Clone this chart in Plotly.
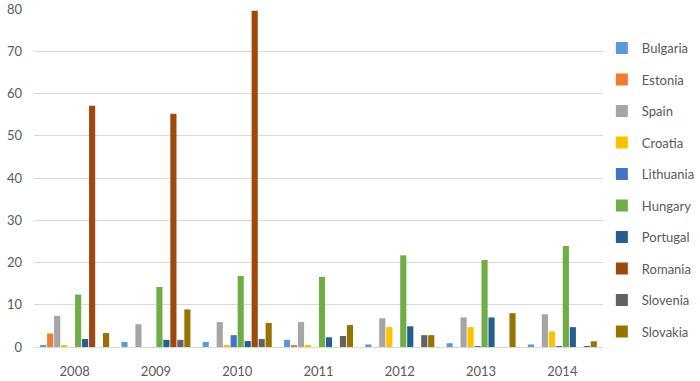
import plotly.graph_objects as go

years = ["2008", "2009", "2010", "2011", "2012", "2013", "2014"]
countries = ["Bulgaria", "Estonia", "Spain", "Croatia", "Lithuania",
             "Hungary", "Portugal", "Romania", "Slovenia", "Slovakia"]
colors = ["#5B9BD5", "#ED7D31", "#A5A5A5", "#FFC000", "#4472C4",
          "#70AD47", "#255E91", "#9E480E", "#636363", "#997300"]

bulgaria = [0.5, 1.2, 1.2, 1.7, 0.6, 0.9, 0.6]
estonia = [3.2, 0, 0, 0.25, 0, 0, 0]
spain = [7.4, 5.4, 5.9, 5.9, 6.8, 7.0, 7.75]
croatia = [0.4, 0, 0.25, 0.25, 4.7, 4.7, 3.7]
lithuania = [0, 0, 2.8, 0, 0, 0.2, 0.2]
hungary = [12.4, 14.2, 16.8, 16.6, 21.7, 20.6, 23.9]
portugal = [1.9, 1.7, 1.4, 2.3, 4.9, 7.0, 4.7]
romania = [57.1, 55.2, 79.6, 0, 0, 0, 0]
slovenia = [0, 1.7, 1.9, 2.6, 2.8, 0, 0.2]
slovakia = [3.3, 8.9, 5.7, 5.2, 2.8, 8.0, 1.35]

series = [bulgaria, estonia, spain, croatia, lithuania,
          hungary, portugal, romania, slovenia, slovakia]

FONT = "Lato"
GRAY = "#595959"

fig = go.Figure()
for name, vals, col in zip(countries, series, colors):
    fig.add_trace(go.Bar(x=years, y=vals, name=name, marker_color=col,
                         marker_line_width=0, legendgroup=name))

fig.update_layout(
    width=700, height=381,
    margin=dict(l=34, r=97, t=9, b=34, autoexpand=False),
    paper_bgcolor="white", plot_bgcolor="white",
    barmode="group", bargap=0.14, bargroupgap=0.12,
    font=dict(family=FONT, size=13, color=GRAY),
    showlegend=True,
    legend=dict(x=0.998, xanchor="left", y=0.929, yanchor="top",
                font=dict(family=FONT, size=13, color=GRAY),
                tracegroupgap=11.6, bgcolor="rgba(0,0,0,0)"),
    xaxis=dict(showgrid=False, showline=True, linecolor="#D9D9D9",
               linewidth=1, ticks="", ticklabelstandoff=12, automargin=False,
               tickfont=dict(family=FONT, size=13, color=GRAY)),
    yaxis=dict(range=[0, 80], dtick=10, showgrid=True, gridcolor="#D9D9D9",
               gridwidth=1, zeroline=False, showline=False, ticks="",
               ticklabelstandoff=11, automargin=False,
               tickfont=dict(family=FONT, size=13, color=GRAY)),
)

fig.write_html("out.html")
